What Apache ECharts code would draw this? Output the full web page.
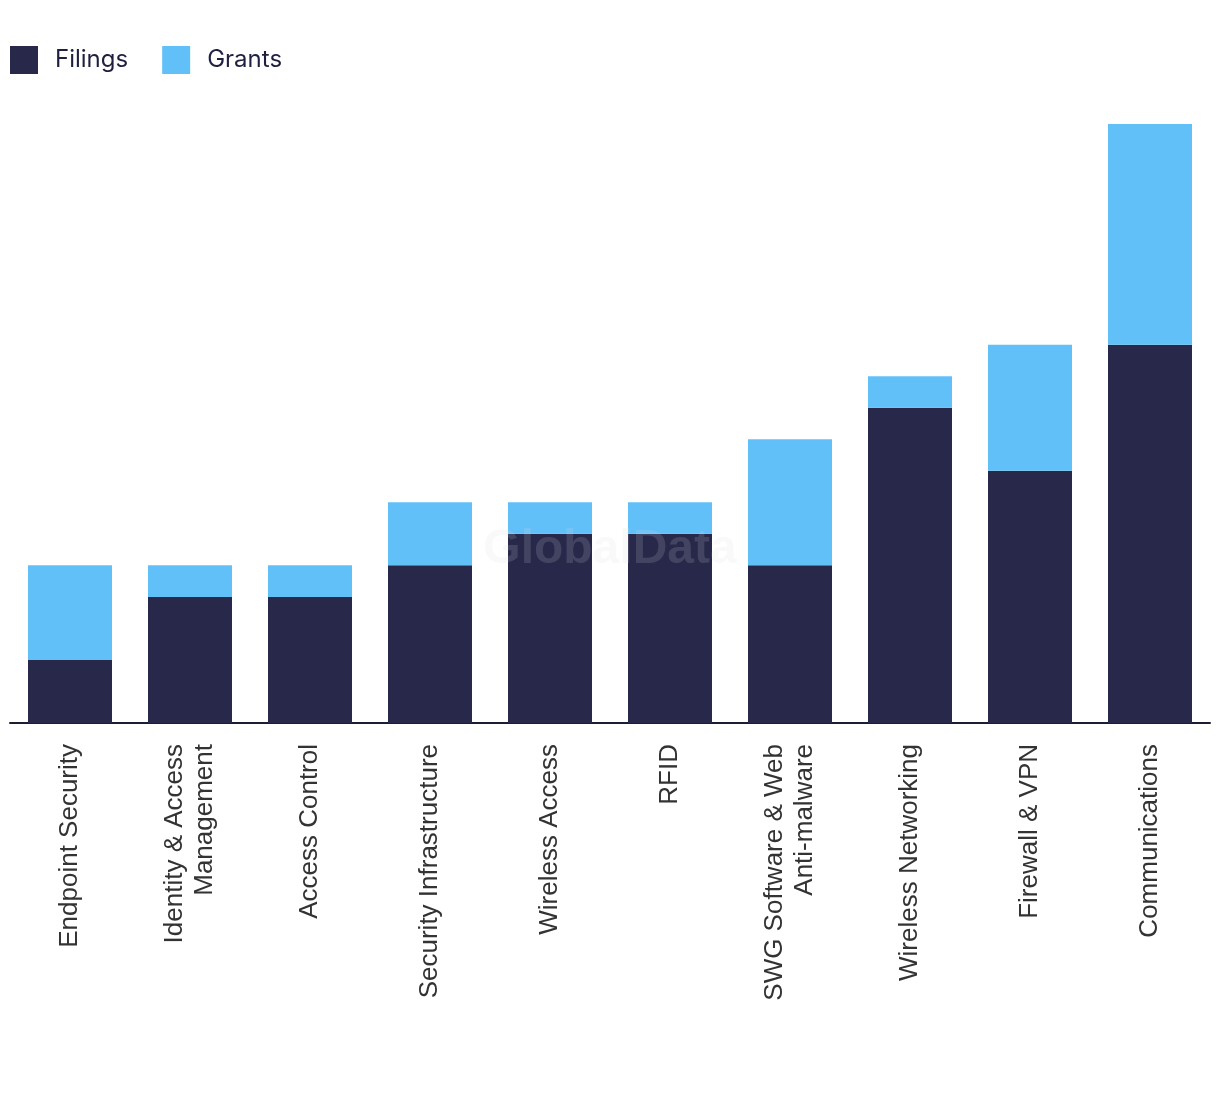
<!DOCTYPE html>
<html><head><meta charset="utf-8">
<script src="https://cdn.jsdelivr.net/npm/echarts@6/dist/echarts.min.js"></script>
<style>html,body{margin:0;padding:0;background:#fff}#c{width:1220px;height:1094px}</style>
</head><body><div id="c"></div>
<script>
const categories = ["Endpoint Security","Identity & Access\nManagement","Access Control","Security Infrastructure","Wireless Access","RFID","SWG Software & Web\nAnti-malware","Wireless Networking","Firewall & VPN","Communications"];
const filings = [2,4,4,5,6,6,5,10,8,12];
const grants = [3,1,1,2,1,1,4,1,4,7];

const chart = echarts.init(document.getElementById('c'), null, {renderer:'canvas'});
chart.setOption({
  animation:false,
  backgroundColor:'#ffffff',
  legend:{
    left:5, top:41, itemWidth:28, itemHeight:28, itemGap:34,
    icon:'rect',
    textStyle:{fontFamily:'Inter', fontSize:24, color:'#1f2040', padding:[0,0,0,12]},
    data:['Filings','Grants']
  },
  grid:{left:10, right:10, top:124, bottom:371, containLabel:false},
  xAxis:{
    type:'category', data:categories,
    axisLine:{lineStyle:{color:'#1c1d33', width:2}},
    axisTick:{show:false},
    axisLabel:{rotate:90, interval:0, margin:21, fontFamily:'Liberation Sans', fontSize:26, color:'#333333', lineHeight:30, padding:[5,0,0,0]}
  },
  yAxis:{type:'value', min:0, max:19, show:false, splitLine:{show:false}},
  series:[
    {name:'Filings', type:'bar', stack:'a', data:filings, barCategoryGap:'30%', itemStyle:{color:'#27284a'}},
    {name:'Grants', type:'bar', stack:'a', data:grants, barCategoryGap:'30%', itemStyle:{color:'#62c0f8'}}
  ],
  graphic:[{
    type:'text', left:'center', top:526, z:100,
    style:{text:'GlobalData', font:'bold 48px "Liberation Sans"', fill:'rgba(215,215,225,0.16)'}
  }]
});
</script></body></html>
